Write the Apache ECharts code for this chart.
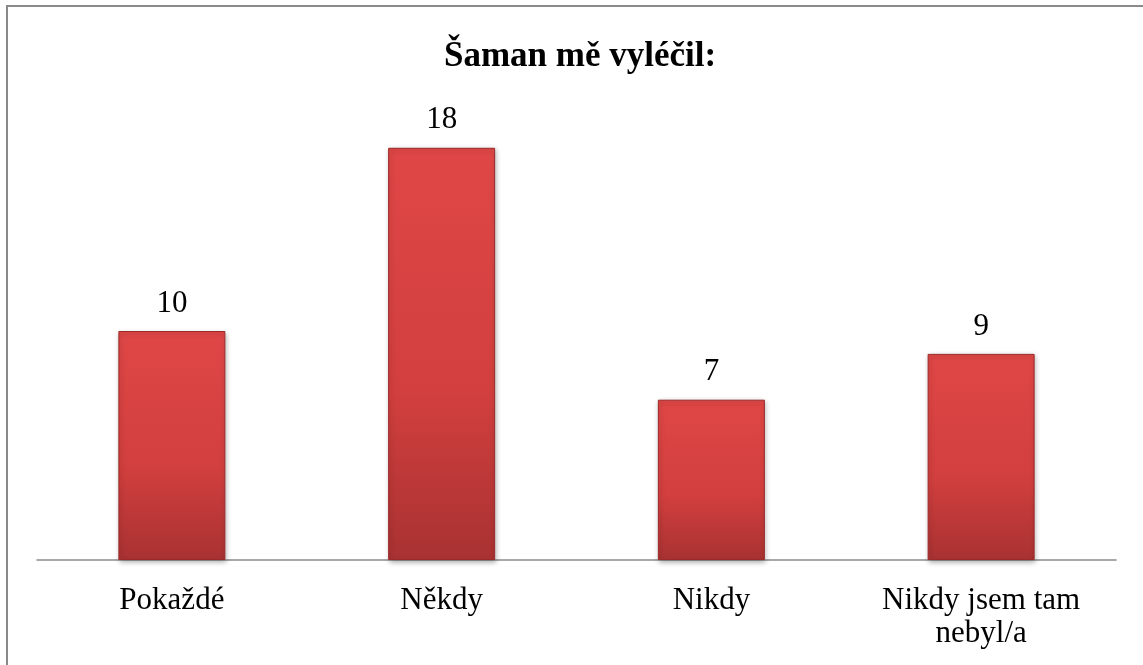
<!DOCTYPE html>
<html><head><meta charset="utf-8">
<script src="https://cdn.jsdelivr.net/npm/echarts@6/dist/echarts.min.js"></script>
<style>html,body{margin:0;padding:0;background:#fff}#c{width:1143px;height:665px}</style>
</head><body><div id="c"></div>
<script>
const categories = ['Pokaždé', 'Někdy', 'Nikdy', 'Nikdy jsem tam\nnebyl/a'];
const values = [10, 18, 7, 9];
const titleText = 'Šaman mě vyléčil:';

const chart = echarts.init(document.getElementById('c'), null, {renderer: 'canvas'});
const serif = '"Liberation Serif", "DejaVu Serif", serif';
chart.setOption({
  animation: false,
  backgroundColor: '#fff',
  title: {
    text: titleText, left: 575, top: 34, textAlign: 'center',
    textStyle: {fontFamily: serif, fontWeight: 'bold', fontSize: 35, color: '#000'}
  },
  graphic: [{
    type: 'rect', shape: {x: 7, y: 6, width: 1160, height: 680},
    style: {fill: 'none', stroke: '#8a8a8a', lineWidth: 2}, z: 100
  }],
  grid: {left: 37, right: 27, top: 102, bottom: 105},
  xAxis: {
    type: 'category', data: categories,
    axisLine: {lineStyle: {color: '#8c8c8c', width: 1.5}},
    axisTick: {show: false},
    axisLabel: {fontFamily: serif, fontSize: 31, color: '#000', margin: 24, lineHeight: 33, interval: 0}
  },
  yAxis: {
    type: 'value', min: 0, max: 20, show: false, splitLine: {show: false}
  },
  series: [{
    type: 'bar', data: values, barWidth: 107,
    itemStyle: {
      color: new echarts.graphic.LinearGradient(0, 0, 0, 1, [
        {offset: 0, color: '#df4746'},
        {offset: 0.6, color: '#d13f3e'},
        {offset: 1, color: '#a93232'}
      ]),
      borderColor: '#9c2a2a', borderWidth: 1,
      shadowColor: 'rgba(0,0,0,0.3)', shadowBlur: 5, shadowOffsetX: 1, shadowOffsetY: 2
    },
    label: {
      show: true, position: 'top', distance: 12,
      fontFamily: serif, fontSize: 31, color: '#000'
    }
  }]
});
</script></body></html>
